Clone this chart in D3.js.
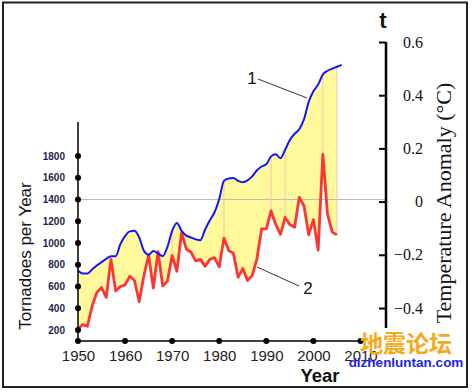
<!DOCTYPE html>
<html>
<head>
<meta charset="utf-8">
<script src="https://cdn.jsdelivr.net/npm/d3@7"></script>
<style>
  body { margin: 0; background: #fff; }
  svg { display: block; }
</style>
</head>
<body>
<svg id="chart" width="472" height="392"></svg>
<script>
const years = d3.range(1950, 2006);
const tornadoes = [
  210, 250, 235, 420, 545, 590, 500, 850, 560, 600,
  615, 695, 655, 460, 700, 890, 585, 920, 605, 650,
  885, 740, 1095, 945, 915, 835, 850, 785, 850, 865,
  780, 1045, 930, 905, 685, 765, 655, 700, 855, 1130,
  1130, 1295, 1170, 1080, 1235, 1170, 1145, 1420, 1340, 1075,
  1215, 935, 1815, 1265, 1100, 1075
];
const tempYears = d3.range(1950, 2007);
const tempAnomaly = [
  -0.26, -0.27, -0.27, -0.255, -0.24, -0.228, -0.215, -0.205, -0.205, -0.16,
  -0.13, -0.112, -0.11, -0.135, -0.185, -0.2, -0.186, -0.195, -0.205, -0.17,
  -0.11, -0.08, -0.11, -0.128, -0.135, -0.142, -0.145, -0.105, -0.07, -0.04,
  0.01, 0.078, 0.087, 0.089, 0.078, 0.073, 0.08, 0.095, 0.118, 0.132,
  0.14, 0.17, 0.178, 0.163, 0.195, 0.232, 0.255, 0.272, 0.31, 0.375,
  0.415, 0.44, 0.478, 0.492, 0.5, 0.507, 0.514
];
const yearTicks = [1950, 1960, 1970, 1980, 1990, 2000, 2010];
const tornadoTicks = [200, 400, 600, 800, 1000, 1200, 1400, 1600, 1800];
const tempTicks = [-0.4, -0.2, 0, 0.2, 0.4, 0.6];
const seamYears = [1970, 1981, 1991, 1994, 2002, 2005];

const svg = d3.select('#chart');

const x = d3.scaleLinear().domain([1950, 2010]).range([78, 360.5]);
const yL = d3.scaleLinear().domain([200, 1800]).range([330, 156]);
const yR = d3.scaleLinear().domain([-0.4, 0.6]).range([308, 42]);

const redPts = years.map((yr, i) => [x(yr), yL(tornadoes[i])]);
const bluePts = tempYears.map((yr, i) => [x(yr), yR(tempAnomaly[i])]);

// yellow band between the two curves
const blueLine = d3.line().curve(d3.curveMonotoneX);
const redLine = d3.line();
const upper = blueLine(bluePts.slice(0, years.length));
const lower = redLine(redPts.slice().reverse()).replace(/^M/, 'L');
svg.append('path')
  .attr('d', upper + lower + 'Z')
  .attr('fill', '#fff99c')
  .attr('stroke', 'none');

// zero / 1400 reference line
svg.append('line')
  .attr('x1', x(1950)).attr('x2', 386)
  .attr('y1', yL(1400)).attr('y2', yL(1400))
  .attr('stroke', '#bcbcbc').attr('stroke-width', 1);

svg.selectAll('.seam')
  .data(seamYears)
  .enter()
  .append('line')
  .attr('x1', d => x(d)).attr('x2', d => x(d))
  .attr('y1', d => yR(tempAnomaly[tempYears.indexOf(d)]))
  .attr('y2', d => yL(tornadoes[years.indexOf(d)]))
  .attr('stroke', '#f5c4ad').attr('stroke-width', 1);

svg.append('path')
  .attr('d', redLine(redPts))
  .attr('fill', 'none')
  .attr('stroke', '#ff3434')
  .attr('stroke-width', 2.8)
  .attr('stroke-linejoin', 'round');

svg.append('path')
  .attr('d', blueLine(bluePts))
  .attr('fill', 'none')
  .attr('stroke', '#1414ff')
  .attr('stroke-width', 2);

// left axis
const leftAxis = svg.append('g')
  .attr('transform', `translate(${x(1950)},0)`)
  .call(d3.axisLeft(yL).tickValues(tornadoTicks).tickFormat(d3.format('d')).tickSize(0).tickPadding(13));
leftAxis.select('.domain').remove();
leftAxis.selectAll('text')
  .attr('font-family', 'Liberation Sans, Arial, sans-serif')
  .attr('font-size', 10).attr('font-weight', 'bold').attr('fill', '#241f4c');
leftAxis.append('line')
  .attr('y1', 122).attr('y2', 341)
  .attr('stroke', '#000').attr('stroke-width', 1.5);
leftAxis.selectAll('.dot')
  .data(tornadoTicks)
  .enter()
  .append('circle')
  .attr('cy', d => yL(d)).attr('r', 3).attr('fill', '#000');

// bottom axis
const bottomAxis = svg.append('g')
  .attr('transform', 'translate(0,341)')
  .call(d3.axisBottom(x).tickValues(yearTicks).tickFormat(d3.format('d')).tickSize(0).tickPadding(9));
bottomAxis.select('.domain').remove();
bottomAxis.selectAll('text')
  .attr('font-family', 'Liberation Sans, Arial, sans-serif')
  .attr('font-size', 15).attr('fill', '#222');
bottomAxis.append('line')
  .attr('x1', x(1950)).attr('x2', x(2010))
  .attr('stroke', '#000').attr('stroke-width', 1.5);
bottomAxis.selectAll('.dot')
  .data(yearTicks)
  .enter()
  .append('circle')
  .attr('cx', d => x(d)).attr('r', 3).attr('fill', '#000');

// right axis
const rightAxis = svg.append('g')
  .attr('transform', 'translate(386,0)')
  .call(d3.axisRight(yR).tickValues(tempTicks).tickSize(-7).tickPadding(37)
    .tickFormat(d => d === 0 ? '0' : d3.format('.1f')(d)));
rightAxis.select('.domain').remove();
rightAxis.selectAll('.tick line').attr('stroke', '#000').attr('stroke-width', 2);
rightAxis.selectAll('text')
  .attr('text-anchor', 'end')
  .attr('font-family', 'Liberation Serif, Times New Roman, serif')
  .attr('font-size', 16).attr('fill', '#111');
rightAxis.append('line')
  .attr('y1', yR(0.6)).attr('y2', 328)
  .attr('stroke', '#000').attr('stroke-width', 2.5);

// titles
svg.append('text')
  .attr('transform', 'translate(30.5,256) rotate(-90)')
  .attr('text-anchor', 'middle')
  .attr('font-family', 'Liberation Sans, Arial, sans-serif')
  .attr('font-size', 17).attr('fill', '#111')
  .text('Tornadoes per Year');

svg.append('text')
  .attr('transform', 'translate(451,203) rotate(-90)')
  .attr('text-anchor', 'middle')
  .attr('font-family', 'Liberation Serif, Times New Roman, serif')
  .attr('font-size', 22).attr('fill', '#111')
  .text('Temperature Anomaly (°C)');

svg.append('text')
  .attr('x', 320).attr('y', 382)
  .attr('text-anchor', 'middle')
  .attr('font-family', 'Liberation Sans, Arial, sans-serif')
  .attr('font-size', 18.5).attr('font-weight', 'bold').attr('fill', '#111')
  .text('Year');

svg.append('text')
  .attr('x', 383).attr('y', 28)
  .attr('text-anchor', 'middle')
  .attr('font-family', 'Liberation Sans, Arial, sans-serif')
  .attr('font-size', 22).attr('font-weight', 'bold').attr('fill', '#111')
  .text('t');

// curve labels
svg.append('line')
  .attr('x1', 258).attr('y1', 79).attr('x2', 307).attr('y2', 98)
  .attr('stroke', '#333').attr('stroke-width', 1);
svg.append('text')
  .attr('x', 252).attr('y', 84).attr('text-anchor', 'middle')
  .attr('font-family', 'Liberation Sans, Arial, sans-serif')
  .attr('font-size', 17).attr('fill', '#111')
  .text('1');
svg.append('line')
  .attr('x1', 257).attr('y1', 267).attr('x2', 299).attr('y2', 286)
  .attr('stroke', '#333').attr('stroke-width', 1);
svg.append('text')
  .attr('x', 308).attr('y', 294).attr('text-anchor', 'middle')
  .attr('font-family', 'Liberation Sans, Arial, sans-serif')
  .attr('font-size', 17).attr('fill', '#111')
  .text('2');

// watermark
svg.append('text')
  .attr('x', 406).attr('y', 352).attr('text-anchor', 'middle')
  .attr('font-family', 'Noto Sans CJK SC, sans-serif')
  .attr('font-size', 23).attr('font-weight', 'bold').attr('fill', '#f7a91c')
  .text('地震论坛');
svg.append('text')
  .attr('x', 406).attr('y', 367).attr('text-anchor', 'middle')
  .attr('font-family', 'Liberation Sans, Arial, sans-serif')
  .attr('font-size', 13.5).attr('font-weight', 'bold').attr('fill', '#2424e6')
  .text('dizhenluntan.com');

// frame
svg.append('rect')
  .attr('x', 3).attr('y', 2.5).attr('width', 464).attr('height', 384.5)
  .attr('fill', 'none').attr('stroke', '#222').attr('stroke-width', 2);
</script>
</body>
</html>
